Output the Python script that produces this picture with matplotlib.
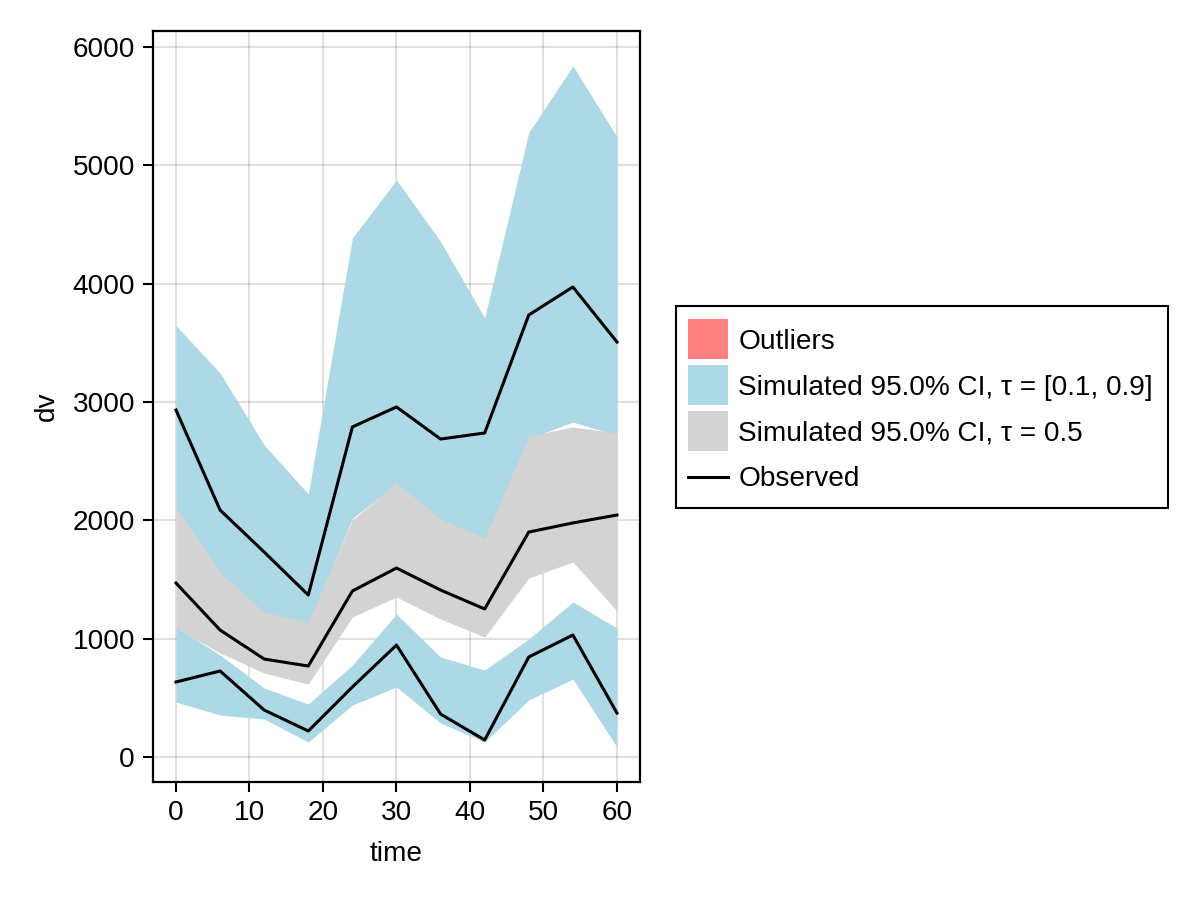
import numpy as np
import matplotlib
matplotlib.use('Agg')
import matplotlib.pyplot as plt
from matplotlib.patches import Patch, Rectangle
from matplotlib.lines import Line2D
from matplotlib.legend_handler import HandlerBase

plt.rcParams['font.family'] = ['Liberation Sans', 'DejaVu Sans']
plt.rcParams['font.size'] = 20.2

## the data
time = [0, 6, 12, 18, 24, 30, 36, 42, 48, 54, 60]

# simulated bands
hi_top = [3645, 3245, 2637, 2223, 4386, 4876, 4355, 3710, 5276, 5840, 5240]
hi_bot = [2080, 1540, 1200, 1120, 2015, 2310, 2000, 1830, 2690, 2830, 2720]
mid_top = [2110, 1563, 1225, 1141, 2003, 2318, 2011, 1851, 2713, 2789, 2738]
mid_bot = [1090, 879, 710, 617, 1183, 1352, 1166, 1014, 1513, 1648, 1234]
lo_top = [1100, 862, 583, 448, 777, 1208, 845, 735, 997, 1310, 1090]
lo_bot = [465, 355, 321, 127, 439, 592, 287, 127, 482, 659, 85]

# observed quantiles
obs_hi = [2932, 2087, 1732, 1369, 2789, 2958, 2687, 2738, 3735, 3972, 3507]
obs_mid = [1470, 1073, 828, 769, 1403, 1597, 1411, 1251, 1901, 1978, 2045]
obs_lo = [634, 727, 397, 220, 592, 946, 363, 144, 845, 1031, 372]

labels = ['Outliers', 'Simulated 95.0% CI, \u03c4 = [0.1, 0.9]',
          'Simulated 95.0% CI, \u03c4 = 0.5', 'Observed']

blue = '#add8e6'
gray = '#d3d3d3'
outl = '#ff8080'


# square legend markers, sized in points
class BoxHandler(HandlerBase):
    def create_artists(self, legend, orig, xdescent, ydescent, width, height,
                       fontsize, trans):
        side = 28.8
        x0 = -xdescent
        yc = -ydescent + height / 2
        if isinstance(orig, Line2D):
            a = Line2D([x0, x0 + side], [yc, yc], color=orig.get_color(),
                       lw=orig.get_linewidth())
        else:
            a = Rectangle((x0, yc - side / 2), side, side,
                          facecolor=orig.get_facecolor(), edgecolor='none')
        a.set_transform(trans)
        return [a]


fig = plt.figure(figsize=(12, 9), dpi=100)
ax = fig.add_axes([0.1275, 0.1311, 0.5333 - 0.1275, 0.9656 - 0.1311])

ax.fill_between(time, lo_bot, lo_top, color=blue, lw=0, zorder=2)
ax.fill_between(time, hi_bot, hi_top, color=blue, lw=0, zorder=2)
ax.fill_between(time, mid_bot, mid_top, color=gray, lw=0, zorder=3)

for obs in (obs_lo, obs_mid, obs_hi):
    ax.plot(time, obs, color='black', lw=2.2, zorder=4)

# axes and labels
ax.set_xlim(-3.13, 63.13)
ax.set_ylim(-211, 6135)
ax.set_xticks([0, 10, 20, 30, 40, 50, 60])
ax.set_yticks([0, 1000, 2000, 3000, 4000, 5000, 6000])
ax.grid(True, color='black', alpha=0.12, lw=1.5, zorder=0)
ax.set_axisbelow(True)
ax.tick_params(direction='out', length=7, width=1.5, pad=6)
for s in ax.spines.values():
    s.set_linewidth(1.6)
ax.set_xlabel('time', labelpad=11)
ax.set_ylabel('dv', labelpad=9)

# legend: own frame box, contents placed inside it
frame = Rectangle((676 / 1200, 1 - 508 / 900), 492 / 1200, 202 / 900,
                  transform=fig.transFigure, fill=False, edgecolor='black',
                  lw=1.5)
fig.add_artist(frame)

handles = [Patch(facecolor=outl, edgecolor='none'),
           Patch(facecolor=blue, edgecolor='none'),
           Patch(facecolor=gray, edgecolor='none'),
           Line2D([], [], color='black', lw=2.2)]
h = BoxHandler()
leg = fig.legend(handles, labels, loc='upper left',
                 bbox_to_anchor=(688 / 1200, 1 - 328.7 / 900),
                 borderaxespad=0, borderpad=0, frameon=False,
                 handler_map={Patch: h, Line2D: h},
                 handlelength=1.43, handleheight=0.7,
                 handletextpad=0.36, labelspacing=0.71)

fig.savefig('out.png', dpi=100)
